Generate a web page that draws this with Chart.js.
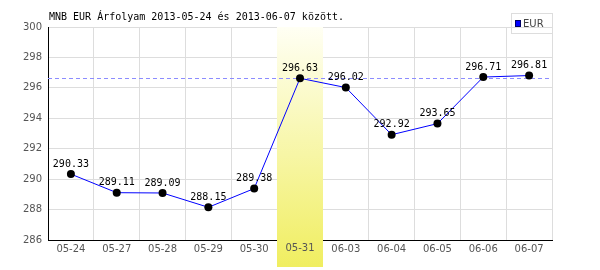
<!DOCTYPE html>
<html lang="hu">
<head>
    <meta charset="UTF-8">
    <title>MNB EUR árfolyam</title>
    <script src="https://cdn.jsdelivr.net/npm/chart.js@4.4.0/dist/chart.umd.min.js"></script>
    <style>
        html, body { margin: 0; padding: 0; background: #fff; }
        #wrap { width: 600px; height: 270px; }
    </style>
</head>
<body>
    <div id="wrap"><canvas id="chart_area" width="600" height="270"></canvas></div>
    <script>
        // data
        const dates = ['05-24', '05-27', '05-28', '05-29', '05-30', '05-31', '06-03', '06-04', '06-05', '06-06', '06-07'];
        const eurRates = [290.33, 289.11, 289.09, 288.15, 289.38, 296.63, 296.02, 292.92, 293.65, 296.71, 296.81];
        const yTicks = [286, 288, 290, 292, 294, 296, 298, 300];
        const highlightIndex = 5;
        const refValue = 296.63;
        const titleText = 'MNB EUR Árfolyam 2013-05-24 és 2013-06-07 között.';
        const seriesName = 'EUR';

        const monoFont = '10px "DejaVu Sans Mono", monospace';
        const sansFont = '10px "DejaVu Sans", sans-serif';

        // band, reference line, re-drawn tick label
        const decorPlugin = {
            id: 'decor',
            beforeDatasetsDraw(chart) {
                const ctx = chart.ctx;
                const area = chart.chartArea;
                const x = chart.scales.x;
                const y = chart.scales.y;
                const half = (x.getPixelForValue(1) - x.getPixelForValue(0)) / 2;
                const cx = x.getPixelForValue(highlightIndex);
                const left = Math.round(cx - half), right = Math.round(cx + half);
                const bandBottom = area.bottom + 27;
                const grad = ctx.createLinearGradient(0, area.top, 0, bandBottom);
                grad.addColorStop(0, 'rgb(255,255,244)');
                grad.addColorStop(1, 'rgb(240,238,96)');
                ctx.save();
                ctx.fillStyle = grad;
                ctx.fillRect(left, area.top, right - left, bandBottom - area.top);

                // label of the highlighted day on top of the band
                ctx.font = sansFont;
                ctx.fillStyle = '#555';
                ctx.textAlign = 'center';
                ctx.textBaseline = 'middle';
                ctx.fillText(dates[highlightIndex], cx, area.bottom + 8);

                // dashed reference line
                const ry = Math.round(y.getPixelForValue(refValue)) + 0.5;
                ctx.strokeStyle = '#8c8cff';
                ctx.lineWidth = 1;
                ctx.setLineDash([4, 3]);
                ctx.beginPath();
                ctx.moveTo(area.left, ry);
                ctx.lineTo(area.right, ry);
                ctx.stroke();
                ctx.restore();
            },
            afterDraw(chart) {
                const ctx = chart.ctx;
                const meta = chart.getDatasetMeta(0);
                ctx.save();
                // value labels
                ctx.font = monoFont;
                ctx.fillStyle = '#000';
                ctx.textAlign = 'center';
                ctx.textBaseline = 'middle';
                meta.data.forEach((pt, i) => {
                    ctx.fillText(eurRates[i].toFixed(2), pt.x, pt.y - 10);
                });

                // title
                ctx.textAlign = 'left';
                ctx.fillText(titleText, 49, 17);

                // legend
                ctx.strokeStyle = '#dddddd';
                ctx.lineWidth = 1;
                ctx.strokeRect(511.5, 13.5, 41, 20);
                ctx.fillStyle = '#0000ff';
                ctx.fillRect(515, 20, 6, 7);
                ctx.strokeStyle = '#000066';
                ctx.strokeRect(515.5, 20.5, 5, 6);
                ctx.font = sansFont;
                ctx.fillStyle = '#444';
                ctx.fillText(seriesName, 523, 24);
                ctx.restore();
            }
        };

        const config = {
            type: 'line',
            data: {
                labels: dates,
                datasets: [{
                    label: seriesName,
                    data: eurRates,
                    borderColor: '#0000ff',
                    borderWidth: 1,
                    pointRadius: 4,
                    pointBackgroundColor: '#000',
                    pointBorderWidth: 0,
                    tension: 0,
                    fill: false
                }]
            },
            options: {
                responsive: false,
                animation: false,
                layout: { padding: { left: 0, right: 48, top: 27, bottom: 0 } },
                plugins: {
                    legend: { display: false },
                    title: { display: false },
                    tooltip: { enabled: false }
                },
                scales: {
                    x: {
                        offset: true,
                        grid: { offset: true, color: '#dddddd', drawTicks: false },
                        border: { color: '#000', width: 1 },
                        ticks: { color: '#555', font: { family: 'DejaVu Sans', size: 10 }, padding: 3, maxRotation: 0, autoSkip: false },
                        afterFit(scale) { scale.height = 30; }
                    },
                    y: {
                        min: yTicks[0],
                        max: yTicks[yTicks.length - 1],
                        afterBuildTicks(scale) { scale.ticks = yTicks.map(v => ({ value: v })); },
                        grid: { color: '#dddddd', drawTicks: false },
                        border: { color: '#000', width: 1 },
                        ticks: { color: '#555', font: { family: 'DejaVu Sans', size: 10 }, padding: 6 },
                        afterFit(scale) { scale.width = 48; }
                    }
                }
            },
            plugins: [decorPlugin]
        };

        new Chart(document.getElementById('chart_area').getContext('2d'), config);
    </script>
</body>
</html>
